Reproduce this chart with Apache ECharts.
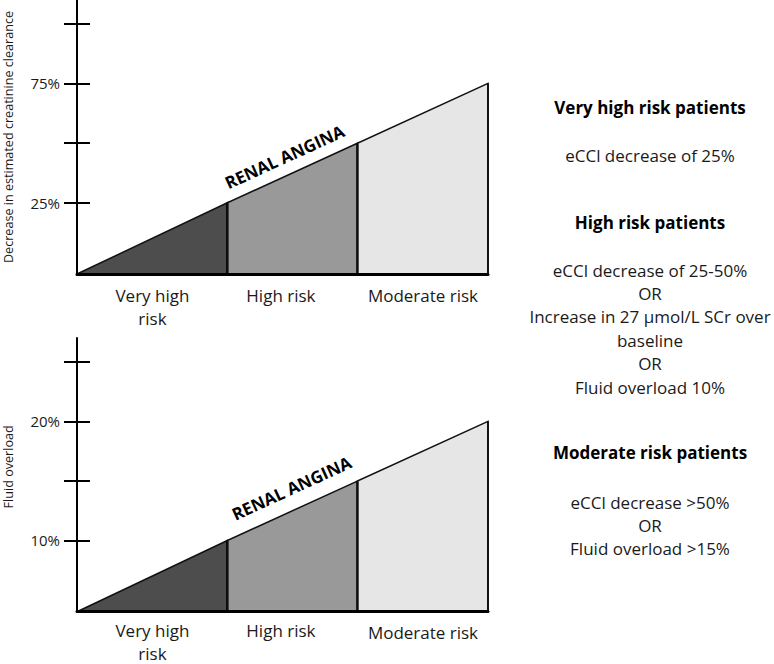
<!DOCTYPE html>
<html><head><meta charset="utf-8">
<script src="https://cdn.jsdelivr.net/npm/echarts@6/dist/echarts.min.js"></script>
<style>html,body{margin:0;padding:0;background:#fff}#c{width:774px;height:664px}</style>
</head><body><div id="c"></div>
<script>
// ---------- data ----------
const riskCategories = ['Very high\nrisk', 'High risk', 'Moderate risk'];
const regionColors = ['#4d4d4d', '#999999', '#e6e6e6'];

// top panel: decrease in estimated creatinine clearance (%)
const eCClThresholds = [25, 50, 75];
const eCClTicks = [25, 50, 75, 100];
const eCClTickLabels = [25, 75];
const eCClStart = -4;
const eCClBase = -5;
const eCClMax = 110;

// bottom panel: fluid overload (%)
const fluidThresholds = [10, 15, 20];
const fluidTicks = [10, 15, 20, 25];
const fluidTickLabels = [10, 20];
const fluidStart = 4.2;
const fluidBase = 4;
const fluidMax = 27;

const bandLabel = 'RENAL ANGINA';
const axisNames = ['Decrease in estimated creatinine clearance', 'Fluid overload'];

const panelTitles = ['Very high risk patients', 'High risk patients', 'Moderate risk patients'];
const panelBodies = [
  ['eCCl decrease of 25%'],
  ['eCCl decrease of 25-50%', 'OR', 'Increase in 27 \u03bcmol/L SCr over', 'baseline', 'OR', 'Fluid overload 10%'],
  ['eCCl decrease >50%', 'OR', 'Fluid overload >15%']
];

// ---------- chart ----------
const FONT = '"Open Sans", "DejaVu Sans", sans-serif';
const chart = echarts.init(document.getElementById('c'), null, {renderer: 'svg'});

function midpoints(start, th) {
  return th.map((t, i) => ((i === 0 ? start : th[i - 1]) + t) / 2);
}

function regionSeries(g, th, start, base, txtOff) {
  const data = th.map((t, i) => [i === 0 ? start : th[i - 1], t, i]);
  return {
    type: 'custom', xAxisIndex: g, yAxisIndex: g * 2, silent: true, z: 2,
    data: data,
    renderItem(params, api) {
      const x0 = api.value(0), x1 = api.value(1), i = api.value(2);
      const y0 = i === 0 ? base : x0;
      const pBL = api.coord([x0, base]), pTL = api.coord([x0, y0]);
      const pTR = api.coord([x1, x1]), pBR = api.coord([x1, base]);
      const children = [
        {type: 'polygon', shape: {points: [pBL, pTL, pTR, pBR]},
         style: {fill: regionColors[i], stroke: '#111', lineWidth: 1.5, lineJoin: 'miter'}},
        {type: 'line', shape: {x1: pBR[0], y1: pBR[1], x2: pTR[0], y2: pTR[1]},
         style: {stroke: '#000', lineWidth: i < th.length - 1 ? 3.5 : 1.5}}
      ];
      if (i === 1) {
        const ang = Math.atan2(-(pTR[1] - pTL[1]), pTR[0] - pTL[0]);
        const ux = Math.cos(ang), uy = -Math.sin(ang);
        const nx = uy, ny = -ux; // normal pointing up-left
        const mx = (pTL[0] + pTR[0]) / 2 + ux * txtOff[0] + nx * txtOff[1];
        const my = (pTL[1] + pTR[1]) / 2 + uy * txtOff[0] + ny * txtOff[1];
        children.push({type: 'text', x: mx, y: my, rotation: ang,
          style: {text: bandLabel, fontSize: 17, fontWeight: 'bold', fontFamily: FONT, fill: '#000',
                  align: 'center', verticalAlign: 'middle', textAlign: 'center', textVerticalAlign: 'middle'}});
      }
      return {type: 'group', children};
    }
  };
}

function xAxisCfg(g, start, th, shifts) {
  const mids = midpoints(start, th);
  const rich = {};
  riskCategories.forEach((c, i) => {
    rich['r' + i] = {fontSize: 17, lineHeight: 23, fontFamily: FONT, color: '#1a1a1a', align: 'center',
                     padding: shifts[i]};
  });
  return {
    type: 'value', gridIndex: g, min: start, max: th[th.length - 1], z: 10, position: 'bottom',
    axisLine: {show: true, onZero: false, lineStyle: {color: '#000', width: 3}},
    axisTick: {show: false}, splitLine: {show: false},
    axisLabel: {
      customValues: mids, margin: g === 0 ? 10 : 7, interval: 0, hideOverlap: false,
      formatter: (v) => {
        let k = 0, best = Infinity;
        mids.forEach((m, i) => { if (Math.abs(m - v) < best) { best = Math.abs(m - v); k = i; } });
        return '{r' + k + '|' + riskCategories[k] + '}';
      },
      rich: rich
    }
  };
}

function yAxisPair(g, base, max, ticks, labels, name, gap, namePad) {
  return [
    {type: 'value', gridIndex: g, min: base, max: max, z: 10, position: 'left', offset: 0,
     name: name, nameLocation: 'middle', nameGap: gap,
     nameTextStyle: {fontSize: 12.6, fontFamily: FONT, color: '#1a1a1a', padding: namePad},
     axisLine: {show: true, onZero: false, lineStyle: {color: '#000', width: 2}},
     axisTick: {show: true, inside: false, length: 13, customValues: ticks, lineStyle: {color: '#000', width: 2}},
     axisLabel: {show: true, customValues: labels, margin: 17, formatter: (v) => v + '%',
                 fontSize: 15, fontFamily: FONT, color: '#1a1a1a'},
     splitLine: {show: false}},
    {type: 'value', gridIndex: g, min: base, max: max, z: 10, position: 'left', offset: 0,
     axisLine: {show: false, onZero: false},
     axisTick: {show: true, inside: true, length: 13, customValues: ticks, lineStyle: {color: '#000', width: 2}},
     axisLabel: {show: false}, splitLine: {show: false}}
  ];
}

// right-hand text
const titleY = [107, 222, 452];
const bodyY = [155, 270, 502];
const LH = 23.4;
const graphics = [];
panelTitles.forEach((t, i) => {
  graphics.push({type: 'text', x: 650, y: titleY[i],
    style: {text: t, fontSize: 17, fontWeight: 'bold', fontFamily: FONT, fill: '#000',
            textAlign: 'center', textVerticalAlign: 'middle', align: 'center', verticalAlign: 'middle'}});
  panelBodies[i].forEach((line, j) => {
    graphics.push({type: 'text', x: 650, y: bodyY[i] + j * LH,
      style: {text: line, fontSize: 17, fontFamily: FONT, fill: '#1a1a1a',
              textAlign: 'center', textVerticalAlign: 'middle', align: 'center', verticalAlign: 'middle'}});
  });
});

chart.setOption({
  animation: false,
  backgroundColor: '#fff',
  textStyle: {fontFamily: FONT},
  grid: [
    {left: 77, top: 0, width: 411, height: 274, containLabel: false, outerBoundsMode: 'none'},
    {left: 77, top: 338, width: 411, height: 273.7, containLabel: false, outerBoundsMode: 'none'}
  ],
  xAxis: [
    xAxisCfg(0, eCClStart, eCClThresholds, [[0, 0, 0, 0], [0, 24, 0, 0], [0, 0, 0, 0]]),
    xAxisCfg(1, fluidStart, fluidThresholds, [[0, 0, 0, 0], [0, 24, 0, 0], [5, 0, 0, 0]])
  ],
  yAxis: [
    ...yAxisPair(0, eCClBase, eCClMax, eCClTicks, eCClTickLabels, axisNames[0], 62, [0, 0, 0, 0]),
    ...yAxisPair(1, fluidBase, fluidMax, fluidTicks, fluidTickLabels, axisNames[1], 62, [0, 0, 0, 16])
  ],
  series: [
    regionSeries(0, eCClThresholds, eCClStart, eCClBase, [-1, 18]),
    regionSeries(1, fluidThresholds, fluidStart, fluidBase, [8, 21])
  ],
  graphic: graphics
});
</script>
</body></html>
